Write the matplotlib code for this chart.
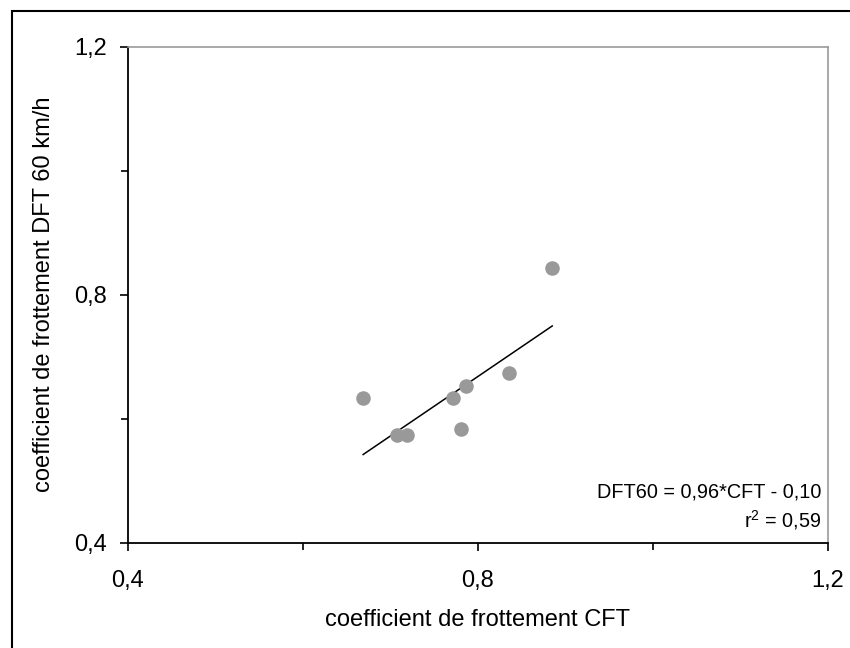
import matplotlib.pyplot as plt
import numpy as np
from matplotlib.patches import Rectangle

plt.rcParams['font.family'] = ['Liberation Sans', 'DejaVu Sans']

# data
cft = [0.669, 0.708, 0.719, 0.772, 0.786, 0.781, 0.836, 0.885]
dft60 = [0.633, 0.573, 0.573, 0.633, 0.653, 0.583, 0.673, 0.843]
slope = 0.96
intercept = -0.10
r2 = 0.59

fig = plt.figure(figsize=(8.5, 6.48), dpi=100)
ax = fig.add_axes([0.1502, 0.1625, 0.8239, 0.7654])

# outer frame of the chart area (right and bottom edges fall outside the image)
fig.patches.append(Rectangle((11.5 / 850, -0.5), 2, 1.5 - 10.5 / 648, transform=fig.transFigure,
                             fill=False, edgecolor='black', lw=1.5))

ax.scatter(cft, dft60, s=110, color='#999999', zorder=3, linewidths=0)
xfit = np.array([min(cft), max(cft)])
ax.plot(xfit, slope * xfit + intercept, color='black', lw=1.1, zorder=2)

ax.set_xlim(0.4, 1.2)
ax.set_ylim(0.4, 1.2)
ax.set_xticks([0.4, 0.8, 1.2])
ax.set_yticks([0.4, 0.8, 1.2])
ax.set_xticks([0.6, 1.0], minor=True)
ax.set_yticks([0.6, 1.0], minor=True)
ax.set_xticklabels(['0,4', '0,8', '1,2'])
ax.set_yticklabels(['0,4', '0,8', '1,2'])
ax.tick_params(which='major', direction='out', length=6, width=1.2, labelsize=17)
ax.tick_params(axis='x', which='major', pad=14)
ax.tick_params(axis='y', which='major', pad=9)
ax.tick_params(which='minor', direction='out', length=5, width=1.2)

for s in ['left', 'bottom']:
    ax.spines[s].set_linewidth(1.3)
    ax.spines[s].set_color('black')
for s in ['top', 'right']:
    ax.spines[s].set_linewidth(1.2)
    ax.spines[s].set_color('#999999')

ax.set_xlabel('coefficient de frottement CFT', fontsize=17, labelpad=12)
ax.set_ylabel('coefficient de frottement DFT 60 km/h', fontsize=17, labelpad=14)

eq = 'DFT60 = %s*CFT - %s' % (('%.2f' % slope).replace('.', ','), ('%.2f' % -intercept).replace('.', ','))
ax.text(0.99, 0.102, eq, transform=ax.transAxes, ha='right', va='center', fontsize=14.3)
ax.text(0.99, 0.045, '$\\mathregular{r^2}$ = ' + ('%.2f' % r2).replace('.', ','), transform=ax.transAxes,
        ha='right', va='center', fontsize=14.3)

fig.savefig('out.png', dpi=100)
